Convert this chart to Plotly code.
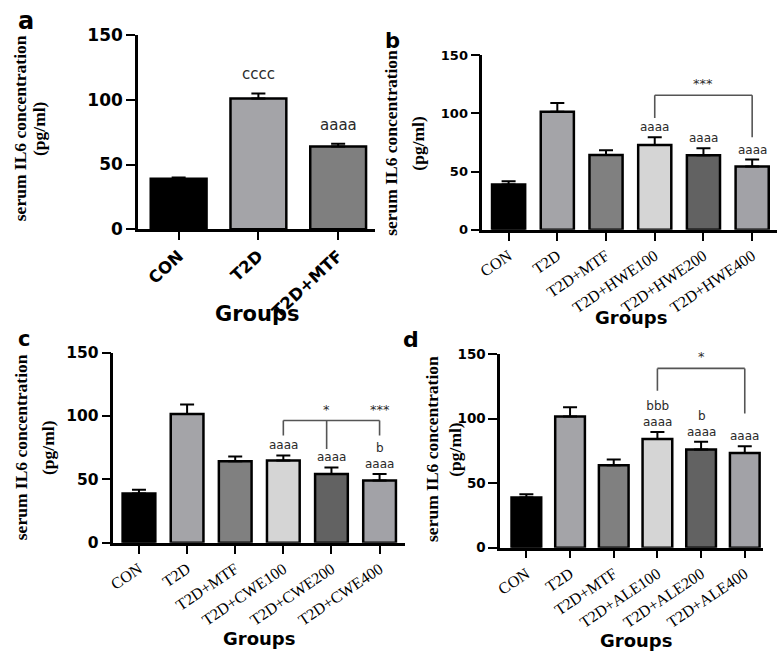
import plotly.graph_objects as go

W, H = 778, 659

# ---------------- data ----------------
groups_a = ["CON", "T2D", "T2D+MTF"]
mean_a = [39, 101, 64]
sem_a = [1, 4, 2]
labels_a = ["", "cccc", "aaaa"]

groups_b = ["CON", "T2D", "T2D+MTF", "T2D+HWE100", "T2D+HWE200", "T2D+HWE400"]
mean_b = [39, 101.5, 64.4, 73, 64, 54.4]
sem_b = [2.8, 7.5, 3.9, 6.5, 6, 6]
labels_b = ["", "", "", "aaaa", "aaaa", "aaaa"]

groups_c = ["CON", "T2D", "T2D+MTF", "T2D+CWE100", "T2D+CWE200", "T2D+CWE400"]
mean_c = [38.8, 101.5, 64.3, 65, 54.3, 49.2]
sem_c = [3, 7.5, 3.8, 3.9, 5.1, 5.1]
labels_c = ["", "", "", "aaaa", "aaaa", "b<br>aaaa"]

groups_d = ["CON", "T2D", "T2D+MTF", "T2D+ALE100", "T2D+ALE200", "T2D+ALE400"]
mean_d = [39, 101.8, 64, 84.2, 76.1, 73.4]
sem_d = [2.5, 7, 4.3, 5.5, 6.1, 5.2]
labels_d = ["", "", "", "bbb<br>aaaa", "b<br>aaaa", "aaaa"]

# significance brackets: top level, drop ends (value units)
bracket_b = {"top": 115.7, "drops": [(3, 96), (5, 79.5)], "stars": [(4, "***")]}
bracket_c = {"top": 96.4, "drops": [(3, 84.7), (3.9, 74), (5, 84.7)], "stars": [(3.9, "*"), (5, "***")]}
bracket_d = {"top": 139, "drops": [(3, 121.6), (5, 104)], "stars": [(4, "*")]}

yticks = [0, 50, 100, 150]

colors3 = ["#000000", "#a4a4a8", "#7f7f7f"]
colors6 = ["#000000", "#a4a4a8", "#808080", "#d5d5d5", "#626262", "#a2a2a7"]


def fx(px):
    return px / W


def fy(py):
    return 1 - py / H


fig = go.Figure()

panels = [
    dict(ax="", groups=groups_a, mean=mean_a, sem=sem_a, labels=labels_a, colors=colors3,
         xd=(133, 371.7), yd=(26, 226), xr=[-0.51, 2.46], bw=0.7),
    dict(ax="2", groups=groups_b, mean=mean_b, sem=sem_b, labels=labels_b, colors=colors6,
         xd=(480, 777), yd=(46.7, 226.7), xr=[-0.54, 5.51], bw=0.68),
    dict(ax="3", groups=groups_c, mean=mean_c, sem=sem_c, labels=labels_c, colors=colors6,
         xd=(108.3, 401.7), yd=(353.3, 549.5), xr=[-0.53, 5.52], bw=0.68),
    dict(ax="4", groups=groups_d, mean=mean_d, sem=sem_d, labels=labels_d, colors=colors6,
         xd=(498, 763), yd=(355, 554.5), xr=[-0.6, 5.42], bw=0.68),
]

ytick_sizes = [17, 13, 15.5, 13.5]
annotations = []
shapes = []

for i, p in enumerate(panels):
    a = p["ax"]
    xname = "x" + a
    yname = "y" + a
    n = len(p["groups"])
    fig.add_trace(go.Bar(
        x=p["groups"], y=p["mean"], width=p["bw"],
        marker=dict(color=p["colors"], line=dict(color="black", width=2.5)),
        error_y=dict(type="data", array=p["sem"], arrayminus=[0] * n, symmetric=False,
                     color="black", thickness=2, width=7),
        xaxis=xname, yaxis=yname, showlegend=False, hoverinfo="skip",
    ))
    if i == 0:
        tfont = dict(family="DejaVu Sans", size=16.5, color="black", weight="bold")
        tangle = -43
    else:
        tfont = dict(family="Liberation Serif", size=16, color="black")
        tangle = -34
    fig.layout["xaxis" + a] = dict(
        domain=[fx(p["xd"][0]), fx(p["xd"][1])], anchor=yname,
        type="category", range=p["xr"], showline=True, linewidth=2.5, linecolor="black",
        ticks="outside", ticklen=8, tickwidth=2, tickcolor="black",
        tickangle=tangle, tickfont=tfont, showgrid=False, zeroline=False,
    )
    fig.layout["yaxis" + a] = dict(
        domain=[fy(p["yd"][1]), fy(p["yd"][0])], anchor=xname,
        range=[0, 150], tickvals=yticks, showline=True, linewidth=2.5, linecolor="black",
        ticks="outside", ticklen=9, tickwidth=2, tickcolor="black",
        tickfont=dict(family="DejaVu Sans", size=ytick_sizes[i], color="black", weight="bold"),
        showgrid=False, zeroline=False,
    )
    for g, m, s, lab in zip(p["groups"], p["mean"], p["sem"], p["labels"]):
        if lab:
            annotations.append(dict(
                x=g, y=m + s, xref=xname, yref=yname, text=lab, showarrow=False,
                yanchor="bottom", yshift=(8 if i == 0 else 1),
                font=dict(family="DejaVu Sans", size=(15 if i == 0 else 12), color="#2a2a2a"),
            ))

# brackets
for a, br in [("2", bracket_b), ("3", bracket_c), ("4", bracket_d)]:
    xs = [d[0] for d in br["drops"]]
    shapes.append(dict(type="line", xref="x" + a, yref="y" + a,
                       x0=min(xs), x1=max(xs), y0=br["top"], y1=br["top"],
                       line=dict(color="#555555", width=1.6)))
    for xd_, yd_ in br["drops"]:
        shapes.append(dict(type="line", xref="x" + a, yref="y" + a,
                           x0=xd_, x1=xd_, y0=br["top"], y1=yd_,
                           line=dict(color="#555555", width=1.6)))
    for xs_, txt in br["stars"]:
        annotations.append(dict(x=xs_, y=br["top"], xref="x" + a, yref="y" + a, text=txt,
                                showarrow=False, yanchor="bottom", yshift=2,
                                font=dict(family="DejaVu Sans", size=13, color="#2a2a2a")))

# panel letters
for letter, (px, py, sz) in zip("abcd", [(20, 11, 24), (389, 32, 21), (18, 339, 21), (408, 340, 22)]):
    annotations.append(dict(x=fx(px), y=fy(py), xref="paper", yref="paper", text=letter,
                            showarrow=False, xanchor="center", yanchor="middle",
                            font=dict(family="DejaVu Sans", size=sz, color="black", weight="bold")))

# y titles (two lines each)
for (x1, x2, yc) in [(14, 34, 122), (388, 415, 137), (15, 43, 451), (430, 453, 453)]:
    annotations.append(dict(x=fx(x1), y=fy(yc), xref="paper", yref="paper",
                            text="serum IL6 concentration", textangle=-90, showarrow=False,
                            xanchor="center", yanchor="middle",
                            font=dict(family="Liberation Serif", size=17.5, color="black", weight="bold")))
    annotations.append(dict(x=fx(x2), y=fy(yc), xref="paper", yref="paper",
                            text="(pg/ml)", textangle=-90, showarrow=False,
                            xanchor="center", yanchor="middle",
                            font=dict(family="Liberation Serif", size=17.5, color="black", weight="bold")))

# x titles
for (px, py, sz) in [(253, 313, 21), (630, 317, 18), (255, 648, 18), (635, 650, 18)]:
    annotations.append(dict(x=fx(px), y=fy(py), xref="paper", yref="paper", text="Groups",
                            showarrow=False, xanchor="center", yanchor="middle",
                            font=dict(family="DejaVu Sans", size=sz, color="black", weight="bold")))

fig.update_layout(
    width=W, height=H, margin=dict(l=0, r=0, t=0, b=0),
    paper_bgcolor="white", plot_bgcolor="white", showlegend=False,
    annotations=annotations, shapes=shapes, bargap=0.3,
)

# place the figure flush with the page corner (no default body margin), no modebar
fig.write_html("out.html", config={"displayModeBar": False},
               post_script="document.body.style.margin='0';document.body.style.overflow='hidden';")
